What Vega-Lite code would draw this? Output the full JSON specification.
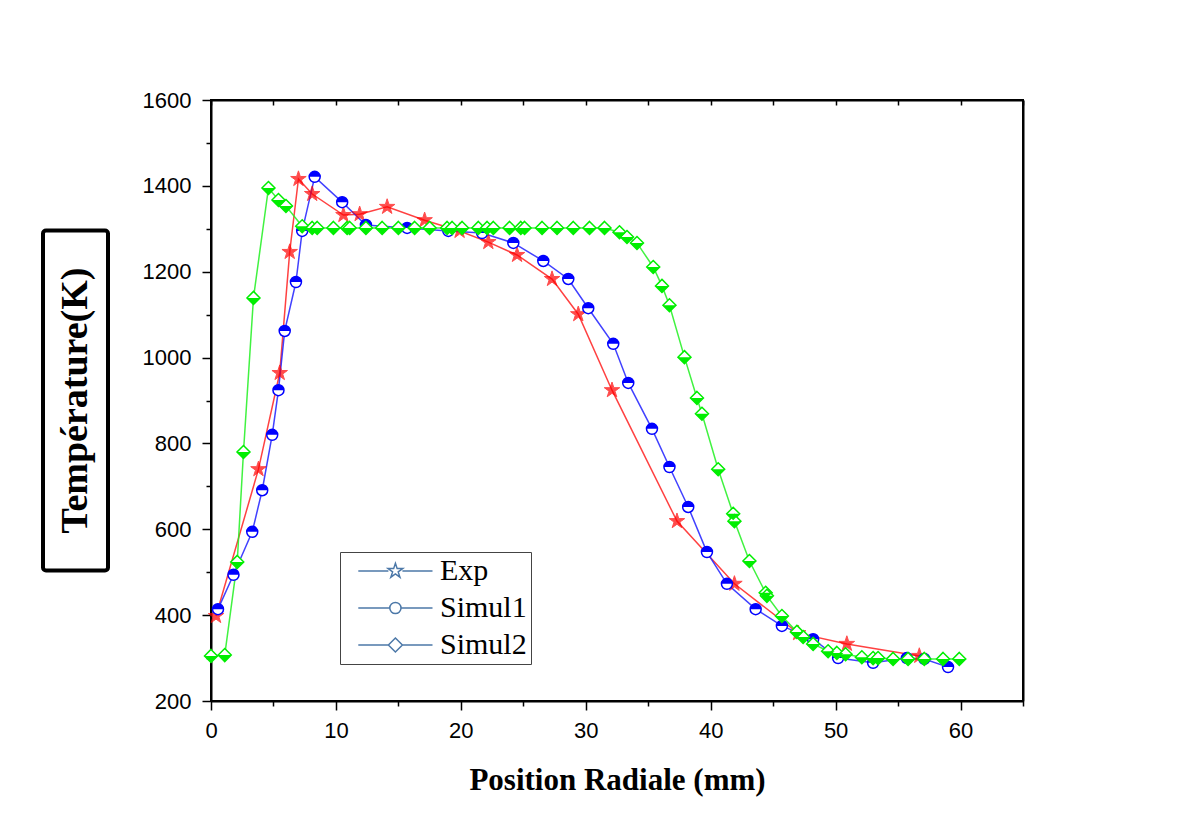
{
  "$schema": "https://vega.github.io/schema/vega-lite/v6.json",
  "background": "white",
  "padding": {"left": 41, "top": 88, "right": 5, "bottom": 5},
  "bounds": "flush",
  "center": true,
  "spacing": 103,
  "resolve": {
    "scale": {"shape": "independent"},
    "legend": {"shape": "independent"}
  },
  "config": {
    "axis": {
      "grid": false,
      "domainColor": "black",
      "domainWidth": 2,
      "tickColor": "black",
      "tickWidth": 1.5,
      "labelFont": "Liberation Sans",
      "labelFontSize": 22,
      "labelColor": "black",
      "labelFlush": false,
      "labelOverlap": false,
      "titleFont": "Liberation Serif",
      "titleFontSize": 31,
      "titleFontWeight": "bold",
      "titleColor": "black"
    }
  },
  "datasets": {
    "pts": [
      {"series": "Exp", "x": 0.4, "T": 398},
      {"series": "Exp", "x": 3.8, "T": 740},
      {"series": "Exp", "x": 5.5, "T": 964},
      {"series": "Exp", "x": 6.3, "T": 1246},
      {"series": "Exp", "x": 7.0, "T": 1416},
      {"series": "Exp", "x": 8.1, "T": 1381},
      {"series": "Exp", "x": 10.6, "T": 1332},
      {"series": "Exp", "x": 11.9, "T": 1334},
      {"series": "Exp", "x": 14.1, "T": 1351},
      {"series": "Exp", "x": 17.1, "T": 1320},
      {"series": "Exp", "x": 19.9, "T": 1295},
      {"series": "Exp", "x": 22.2, "T": 1269},
      {"series": "Exp", "x": 24.5, "T": 1239},
      {"series": "Exp", "x": 27.3, "T": 1183},
      {"series": "Exp", "x": 29.4, "T": 1101},
      {"series": "Exp", "x": 32.1, "T": 924},
      {"series": "Exp", "x": 37.3, "T": 619},
      {"series": "Exp", "x": 41.9, "T": 473},
      {"series": "Exp", "x": 47.0, "T": 358},
      {"series": "Exp", "x": 50.9, "T": 333},
      {"series": "Exp", "x": 56.7, "T": 305},
      {"series": "Simul1", "x": 0.56, "T": 414},
      {"series": "Simul1", "x": 1.8, "T": 494},
      {"series": "Simul1", "x": 3.3, "T": 594},
      {"series": "Simul1", "x": 4.1, "T": 691},
      {"series": "Simul1", "x": 4.9, "T": 820},
      {"series": "Simul1", "x": 5.4, "T": 924},
      {"series": "Simul1", "x": 5.9, "T": 1062},
      {"series": "Simul1", "x": 6.8, "T": 1176},
      {"series": "Simul1", "x": 7.3, "T": 1295},
      {"series": "Simul1", "x": 8.3, "T": 1421},
      {"series": "Simul1", "x": 10.5, "T": 1362},
      {"series": "Simul1", "x": 12.4, "T": 1309},
      {"series": "Simul1", "x": 15.7, "T": 1302},
      {"series": "Simul1", "x": 19.0, "T": 1295},
      {"series": "Simul1", "x": 21.7, "T": 1290},
      {"series": "Simul1", "x": 24.2, "T": 1267},
      {"series": "Simul1", "x": 26.6, "T": 1225},
      {"series": "Simul1", "x": 28.6, "T": 1183},
      {"series": "Simul1", "x": 30.2, "T": 1115},
      {"series": "Simul1", "x": 32.2, "T": 1032},
      {"series": "Simul1", "x": 33.4, "T": 941},
      {"series": "Simul1", "x": 35.3, "T": 834},
      {"series": "Simul1", "x": 36.7, "T": 745},
      {"series": "Simul1", "x": 38.2, "T": 652},
      {"series": "Simul1", "x": 39.7, "T": 547},
      {"series": "Simul1", "x": 41.3, "T": 473},
      {"series": "Simul1", "x": 43.6, "T": 414},
      {"series": "Simul1", "x": 45.7, "T": 375},
      {"series": "Simul1", "x": 48.2, "T": 344},
      {"series": "Simul1", "x": 50.2, "T": 300},
      {"series": "Simul1", "x": 53.0, "T": 289},
      {"series": "Simul1", "x": 55.7, "T": 300},
      {"series": "Simul1", "x": 57.1, "T": 298},
      {"series": "Simul1", "x": 59.0, "T": 279},
      {"series": "Simul2", "x": 0.0, "T": 305},
      {"series": "Simul2", "x": 1.1, "T": 307},
      {"series": "Simul2", "x": 2.1, "T": 524},
      {"series": "Simul2", "x": 2.6, "T": 780},
      {"series": "Simul2", "x": 3.4, "T": 1139},
      {"series": "Simul2", "x": 4.6, "T": 1395},
      {"series": "Simul2", "x": 5.4, "T": 1367},
      {"series": "Simul2", "x": 6.0, "T": 1353},
      {"series": "Simul2", "x": 7.3, "T": 1306},
      {"series": "Simul2", "x": 8.1, "T": 1302},
      {"series": "Simul2", "x": 8.5, "T": 1302},
      {"series": "Simul2", "x": 9.8, "T": 1302},
      {"series": "Simul2", "x": 10.9, "T": 1302},
      {"series": "Simul2", "x": 11.1, "T": 1302},
      {"series": "Simul2", "x": 12.4, "T": 1302},
      {"series": "Simul2", "x": 13.7, "T": 1302},
      {"series": "Simul2", "x": 15.0, "T": 1302},
      {"series": "Simul2", "x": 16.3, "T": 1302},
      {"series": "Simul2", "x": 17.5, "T": 1302},
      {"series": "Simul2", "x": 18.9, "T": 1302},
      {"series": "Simul2", "x": 19.3, "T": 1302},
      {"series": "Simul2", "x": 20.1, "T": 1302},
      {"series": "Simul2", "x": 21.4, "T": 1302},
      {"series": "Simul2", "x": 22.1, "T": 1302},
      {"series": "Simul2", "x": 22.6, "T": 1302},
      {"series": "Simul2", "x": 23.9, "T": 1302},
      {"series": "Simul2", "x": 24.8, "T": 1302},
      {"series": "Simul2", "x": 25.1, "T": 1302},
      {"series": "Simul2", "x": 26.5, "T": 1302},
      {"series": "Simul2", "x": 27.7, "T": 1302},
      {"series": "Simul2", "x": 29.0, "T": 1302},
      {"series": "Simul2", "x": 30.3, "T": 1302},
      {"series": "Simul2", "x": 31.5, "T": 1302},
      {"series": "Simul2", "x": 32.7, "T": 1292},
      {"series": "Simul2", "x": 33.3, "T": 1281},
      {"series": "Simul2", "x": 34.1, "T": 1267},
      {"series": "Simul2", "x": 35.4, "T": 1211},
      {"series": "Simul2", "x": 36.1, "T": 1167},
      {"series": "Simul2", "x": 36.7, "T": 1122},
      {"series": "Simul2", "x": 37.9, "T": 1001},
      {"series": "Simul2", "x": 38.9, "T": 906},
      {"series": "Simul2", "x": 39.3, "T": 869},
      {"series": "Simul2", "x": 40.6, "T": 740},
      {"series": "Simul2", "x": 41.8, "T": 636},
      {"series": "Simul2", "x": 41.9, "T": 619},
      {"series": "Simul2", "x": 43.1, "T": 526},
      {"series": "Simul2", "x": 44.4, "T": 452},
      {"series": "Simul2", "x": 44.5, "T": 445},
      {"series": "Simul2", "x": 45.7, "T": 398},
      {"series": "Simul2", "x": 46.9, "T": 361},
      {"series": "Simul2", "x": 47.4, "T": 349},
      {"series": "Simul2", "x": 48.2, "T": 333},
      {"series": "Simul2", "x": 49.4, "T": 316},
      {"series": "Simul2", "x": 50.1, "T": 312},
      {"series": "Simul2", "x": 50.8, "T": 309},
      {"series": "Simul2", "x": 52.1, "T": 302},
      {"series": "Simul2", "x": 53.0, "T": 300},
      {"series": "Simul2", "x": 53.4, "T": 300},
      {"series": "Simul2", "x": 54.6, "T": 298},
      {"series": "Simul2", "x": 55.8, "T": 298},
      {"series": "Simul2", "x": 57.1, "T": 298},
      {"series": "Simul2", "x": 58.6, "T": 298},
      {"series": "Simul2", "x": 59.9, "T": 298}
    ]
  },
  "hconcat": [
    {
      "width": 65,
      "height": 340,
      "view": {"stroke": "black", "strokeWidth": 4, "cornerRadius": 3, "fill": "white"},
      "data": {"values": [{"label": "Température(K)"}]},
      "mark": {"type": "text", "angle": 270, "font": "Liberation Serif", "fontWeight": "bold", "fontSize": 38, "align": "center", "baseline": "middle", "color": "black"},
      "encoding": {"text": {"field": "label", "type": "nominal"}}
    },
    {
      "width": 812,
      "height": 601,
      "view": {"stroke": "black", "strokeWidth": 2},
      "data": {"name": "pts"},
      "resolve": {"axis": {"x": "independent", "y": "independent"}},
      "layer": [
        {
          "transform": [{"filter": "datum.series === 'Exp'"}],
          "mark": {"type": "line", "strokeWidth": 1.5, "color": "#ff2020", "opacity": 0.85},
          "encoding": {
            "x": {"field": "x", "type": "quantitative", "scale": {"domain": [0, 65], "nice": false, "zero": false},
              "axis": {"orient": "bottom", "title": "Position Radiale (mm)", "values": [0, 10, 20, 30, 40, 50, 60], "format": "d", "tickSize": 9, "labelPadding": 10, "titlePadding": 24}},
            "y": {"field": "T", "type": "quantitative", "scale": {"domain": [200, 1600], "nice": false, "zero": false},
              "axis": {"orient": "left", "title": null, "values": [200, 400, 600, 800, 1000, 1200, 1400, 1600], "format": "d", "tickSize": 9, "labelPadding": 11}}
          }
        },
        {
          "transform": [{"filter": "datum.series === 'Simul1'"}],
          "mark": {"type": "line", "strokeWidth": 1.5, "color": "#2020ff", "opacity": 0.85},
          "encoding": {
            "x": {"field": "x", "type": "quantitative", "axis": null},
            "y": {"field": "T", "type": "quantitative", "axis": null}
          }
        },
        {
          "transform": [{"filter": "datum.series === 'Simul2'"}],
          "mark": {"type": "line", "strokeWidth": 1.5, "color": "#20f020", "opacity": 0.85},
          "encoding": {
            "x": {"field": "x", "type": "quantitative", "axis": null},
            "y": {"field": "T", "type": "quantitative", "axis": null}
          }
        },
        {
          "transform": [{"filter": "datum.series === 'Exp'"}],
          "mark": {"type": "point", "filled": true, "color": "#ff0000", "size": 240, "strokeWidth": 1, "stroke": "#ff0000",
            "shape": "M0,-1.05L0.236,-0.325L1,-0.325L0.382,0.124L0.618,0.85L0,0.401L-0.618,0.85L-0.382,0.124L-1,-0.325L-0.236,-0.325Z"},
          "encoding": {
            "x": {"field": "x", "type": "quantitative", "axis": {"orient": "bottom", "title": null, "values": [5, 15, 25, 35, 45, 55, 65], "tickSize": 5, "labels": false, "domain": false}},
            "y": {"field": "T", "type": "quantitative", "axis": {"orient": "left", "title": null, "values": [300, 500, 700, 900, 1100, 1300, 1500], "tickSize": 5, "labels": false, "domain": false}}
          }
        },
        {
          "transform": [{"filter": "datum.series === 'Simul1'"}],
          "mark": {"type": "point", "filled": false, "fill": "white", "stroke": "#0000ff", "strokeWidth": 1.5, "size": 121, "opacity": 1,
            "shape": "M-1,0A1,1,0,1,0,1,0A1,1,0,1,0,-1,0Z"},
          "encoding": {
            "x": {"field": "x", "type": "quantitative", "axis": null},
            "y": {"field": "T", "type": "quantitative", "axis": null}
          }
        },
        {
          "transform": [{"filter": "datum.series === 'Simul1'"}],
          "mark": {"type": "point", "filled": true, "color": "#0000ff", "size": 121, "opacity": 1,
            "shape": "M-1,0A1,1,0,0,1,1,0Z"},
          "encoding": {
            "x": {"field": "x", "type": "quantitative", "axis": null},
            "y": {"field": "T", "type": "quantitative", "axis": null}
          }
        },
        {
          "transform": [{"filter": "datum.series === 'Simul2'"}],
          "mark": {"type": "point", "filled": false, "fill": "white", "stroke": "#00ee00", "strokeWidth": 1.5, "size": 169, "opacity": 1,
            "shape": "M0,-1L1,0L0,1L-1,0Z"},
          "encoding": {
            "x": {"field": "x", "type": "quantitative", "axis": null},
            "y": {"field": "T", "type": "quantitative", "axis": null}
          }
        },
        {
          "transform": [{"filter": "datum.series === 'Simul2'"}],
          "mark": {"type": "point", "filled": true, "color": "#00ee00", "size": 169, "opacity": 1,
            "shape": "M-1,0L1,0L0,1Z"},
          "encoding": {
            "x": {"field": "x", "type": "quantitative", "axis": null},
            "y": {"field": "T", "type": "quantitative", "axis": null}
          }
        },
        {
          "mark": {"type": "point", "strokeWidth": 1.5, "opacity": 0},
          "encoding": {
            "x": {"field": "x", "type": "quantitative", "axis": {"orient": "top", "title": null, "values": [0, 5, 10, 15, 20, 25, 30, 35, 40, 45, 50, 55, 60, 65], "tickSize": -5, "labels": false}},
            "y": {"field": "T", "type": "quantitative", "axis": {"orient": "right", "title": null, "ticks": false, "labels": false}},
            "shape": {"field": "series", "type": "nominal",
              "scale": {"domain": ["Exp", "Simul1", "Simul2"], "range": [
                "M-0.1,0L4.2,0M6.2,0L10.5,0M5.2,-1.1L5.45,-0.34L6.25,-0.34L5.6,0.13L5.85,0.89L5.2,0.42L4.55,0.89L4.8,0.13L4.15,-0.34L4.95,-0.34Z",
                "M-0.1,0L4.4,0M6.0,0L10.5,0M4.4,0A0.8,0.8,0,1,0,6.0,0A0.8,0.8,0,1,0,4.4,0Z",
                "M-0.1,0L4.2,0M6.2,0L10.5,0M5.2,-1L6.2,0L5.2,1L4.2,0Z"]},
              "legend": {
                "orient": "none", "legendX": 129, "legendY": 452, "title": null,
                "strokeColor": "#444444", "fillColor": "white", "padding": 4,
                "labelFont": "Liberation Serif", "labelFontSize": 30, "labelColor": "black",
                "labelOffset": 66, "rowPadding": 7, "symbolSize": 196, "symbolStrokeWidth": 1.5, "symbolOpacity": 1,
                "labelExpr": "datum.label + '\u00a0\u00a0\u00a0\u00a0\u00a0\u00a0'",
                "encode": {
                  "legend": {"update": {"strokeWidth": {"value": 1.5}}},
                  "symbols": {"update": {
                    "opacity": {"value": 1},
                    "stroke": {"signal": "datum.value === 'Exp' ? '#ff2020' : datum.value === 'Simul1' ? '#2020ff' : '#20f020'"},
                    "fill": {"signal": "datum.value === 'Exp' ? '#ff0000' : datum.value === 'Simul1' ? '#0000ff' : '#00ee00'"}
                  }}
                }
              }}
          }
        }
      ]
    }
  ]
}
